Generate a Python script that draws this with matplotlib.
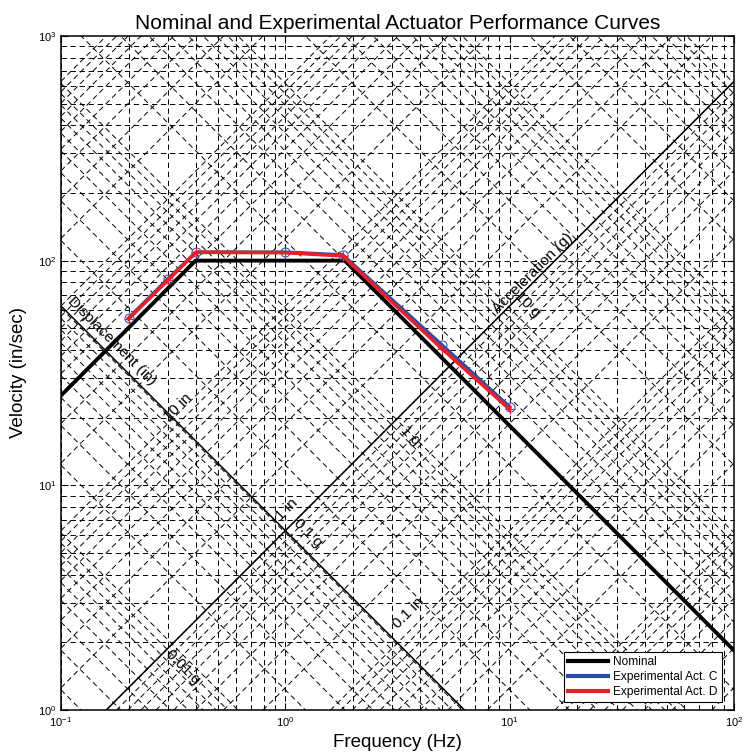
import numpy as np
import matplotlib.pyplot as plt
from matplotlib.lines import Line2D

plt.rcParams['font.family'] = ['Liberation Sans', 'DejaVu Sans']
plt.rcParams['mathtext.fontset'] = 'custom'
plt.rcParams['mathtext.rm'] = 'Liberation Sans'

# performance curves (frequency in Hz, velocity in in/sec)
nominal_freq = [0.1, 0.398, 1.84, 100.0]
nominal_vel = [25.1, 100.0, 100.0, 1.84]

act_c_freq = [0.2, 0.3, 0.4, 1.0, 1.8, 5.0, 10.0]
act_c_vel = [55.5, 83.0, 109.0, 109.0, 106.0, 42.0, 22.3]

act_d_freq = [0.2, 0.3, 0.4, 1.0, 1.8, 5.0, 10.0]
act_d_vel = [55.0, 82.0, 109.0, 108.5, 105.0, 40.5, 21.8]

# tripartite reference axes
displacement_labels = ["10 in", "1 in", "0.1 in"]
acceleration_labels = ["10 g", "1 g", "0.1 g", "0.01 g"]

G_IN = 386.09

fig = plt.figure(figsize=(7.45, 7.54), dpi=100)
ax = fig.add_axes([0.0819, 0.0584, 0.9034, 0.8939])
ax.set_xscale('log')
ax.set_yscale('log')
ax.set_xlim(0.1, 100)
ax.set_ylim(1, 1000)

dash = (0, (5.5, 3.8))
grid_kw = dict(color='black', lw=0.7, linestyle=dash, zorder=1)
f = np.logspace(-1, 2, 50)
mult = np.arange(1, 10)

for dec in range(-1, 2):
    for m in mult:
        ax.axvline(m * 10.0 ** dec, **grid_kw)
for dec in range(0, 3):
    for m in mult:
        ax.axhline(m * 10.0 ** dec, **grid_kw)
for dec in range(-4, 4):
    for m in mult:
        d = m * 10.0 ** dec
        ax.plot(f, 2 * np.pi * f * d, **grid_kw)
        ax.plot(f, d * G_IN / (2 * np.pi * f), **grid_kw)

# solid axis lines for displacement and acceleration
ax.plot(f, 2 * np.pi / f, color='black', lw=1.1, zorder=3)
ax.plot(f, 2 * np.pi * f, color='black', lw=1.1, zorder=3)

txt_kw = dict(fontsize=11, ha='center', va='center', zorder=6)
ax.text(0.169, 44, "Displacement (in)", rotation=-45, **txt_kw)
ax.text(12.7, 88, "Acceleration (g)", rotation=45, **txt_kw)

disp_pos = [(0.332, 22.3), (1.02, 7.77), (3.52, 2.70)]
for (x, y), lab in zip(disp_pos, displacement_labels):
    ax.text(x, y, lab, rotation=45, **txt_kw)
acc_pos = [(12.0, 63.5), (3.6, 16.7), (1.26, 6.14), (0.35, 1.56)]
for (x, y), lab in zip(acc_pos, acceleration_labels):
    ax.text(x, y, lab, rotation=-45, **txt_kw)

ax.plot(nominal_freq, nominal_vel, color='black', lw=2.8, zorder=4)
ax.plot(act_c_freq, act_c_vel, color='#2a4ea6', lw=2.6, marker='o', ms=6.5,
        mfc='none', mec='#3355cc', mew=0.8, zorder=5)
ax.plot(act_d_freq, act_d_vel, color='#e8202a', lw=2.6, marker='+', ms=6.5,
        mec='#e8202a', mew=0.8, zorder=5)

ax.set_xticks([0.1, 1, 10, 100])
ax.set_xticklabels([r'$10^{-1}$', r'$10^{0}$', r'$10^{1}$', r'$10^{2}$'])
ax.set_yticks([1, 10, 100, 1000])
ax.set_yticklabels([r'$10^{0}$', r'$10^{1}$', r'$10^{2}$', r'$10^{3}$'])
ax.tick_params(which='both', direction='in', top=True, right=True, labelsize=8)
ax.tick_params(which='major', length=5)
ax.tick_params(which='minor', length=3)
for s in ax.spines.values():
    s.set_linewidth(1.1)

ax.set_title("Nominal and Experimental Actuator Performance Curves", fontsize=15, pad=5)
ax.set_xlabel("Frequency (Hz)", fontsize=13.5, labelpad=4)
ax.set_ylabel("Velocity (in/sec)", fontsize=13.5, labelpad=8)

handles = [Line2D([], [], color='black', lw=3),
           Line2D([], [], color='#2a4ea6', lw=3),
           Line2D([], [], color='#e8202a', lw=3)]
labels = ['Nominal', 'Experimental Act. C', 'Experimental Act. D']
leg = ax.legend(handles, labels, loc='lower right', bbox_to_anchor=(0.982, 0.012),
                fontsize=8.6, fancybox=False, framealpha=1, edgecolor='black',
                handlelength=3.4, borderaxespad=0.0, borderpad=0.35,
                labelspacing=0.25, handletextpad=0.4)
leg.get_frame().set_linewidth(0.8)
leg.set_zorder(10)

fig.savefig('out.png', dpi=100)
